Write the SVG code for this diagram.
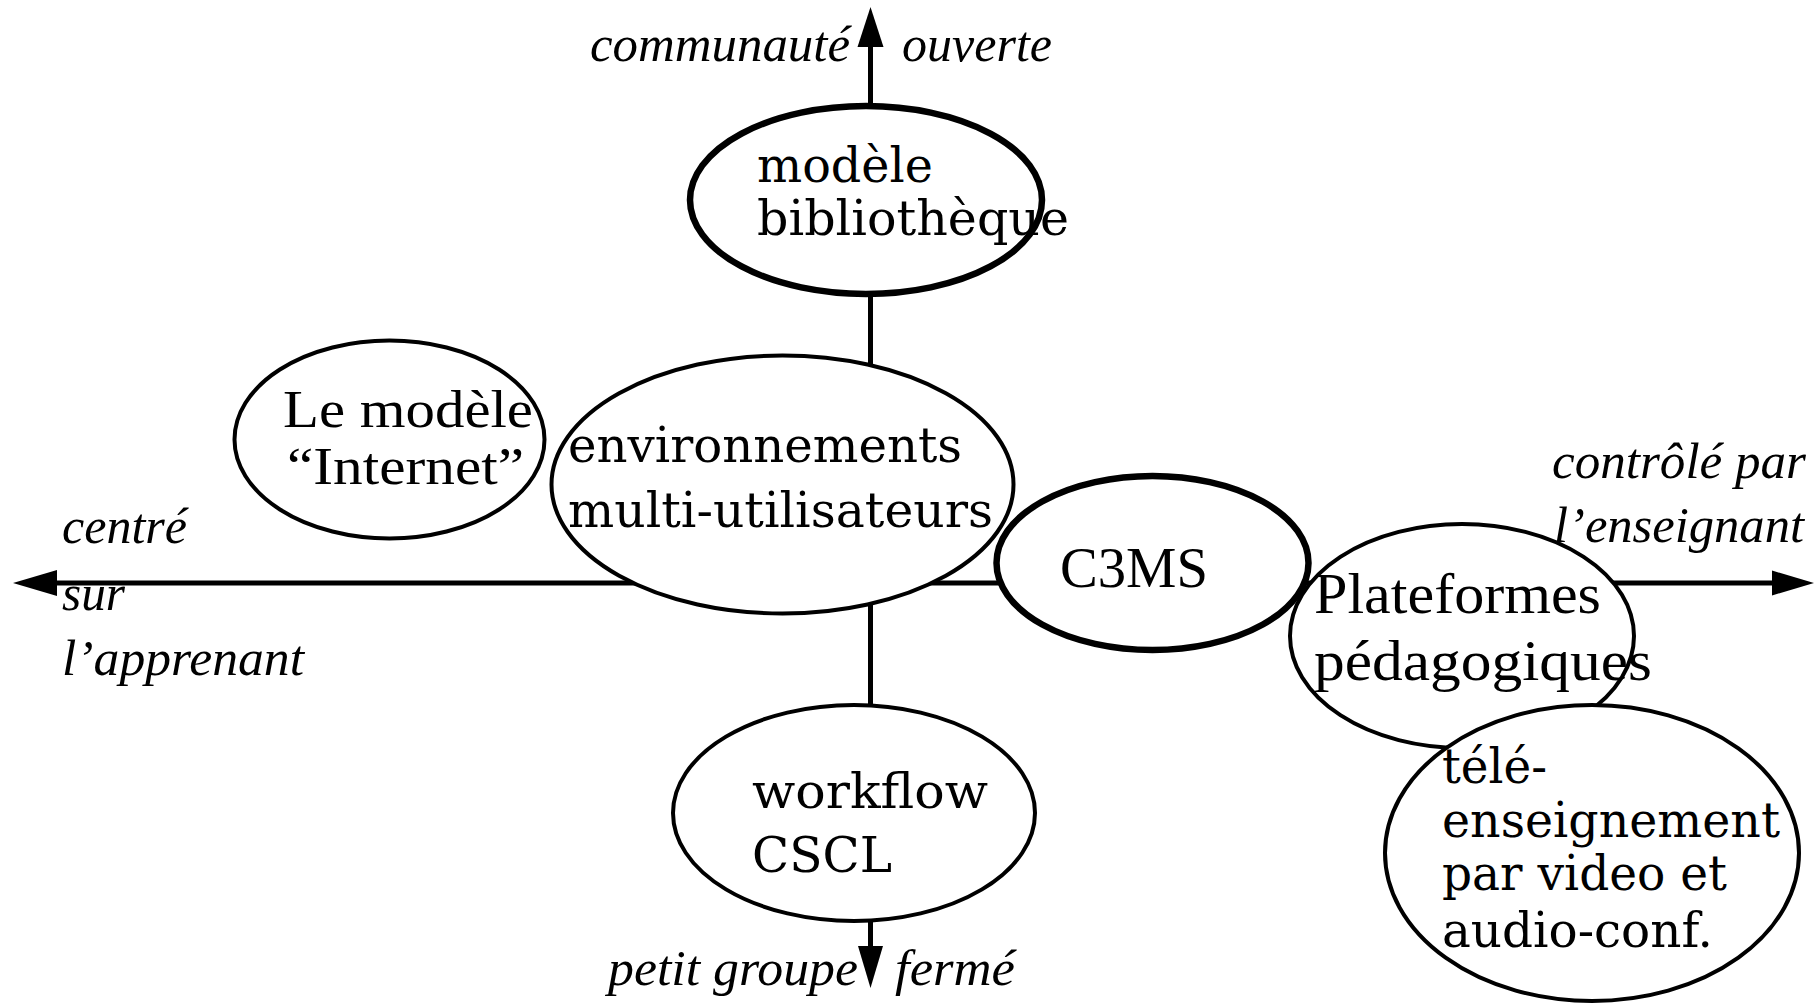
<svg xmlns="http://www.w3.org/2000/svg" width="1814" height="1005" viewBox="0 0 1814 1005">
  <style>
    .axis { stroke: #000; stroke-width: 5; fill: none; }
    .head { fill: #000; stroke: none; }
    .node { fill: #fff; stroke: #000; stroke-width: 4; }
    .bold { stroke-width: 6.5; }
    .wide { font-family: "DejaVu Serif", "Liberation Serif", serif; font-size: 48px; fill: #000; }
    .times { font-family: "Liberation Serif", "Times New Roman", serif; font-size: 58px; fill: #000; }
    .tight { font-size: 52px; }
    .pole { font-family: "Liberation Serif", "Times New Roman", serif; font-style: italic; font-size: 50px; fill: #000; }
  </style>

  <rect x="0" y="0" width="1814" height="1005" fill="#fff"/>

  <!-- two axes with arrowheads at each end -->
  <g id="connectors">
    <line class="axis" x1="50" y1="583" x2="1780" y2="583"/>
    <line class="axis" x1="870.5" y1="40" x2="870.5" y2="950"/>
    <polygon class="head" points="13,583 57,570 57,596"/>
    <polygon class="head" points="1814,583 1772,570.5 1772,595.5"/>
    <polygon class="head" points="870.5,7 857.5,47 883.5,47"/>
    <polygon class="head" points="870.5,988 858,946 883,946"/>
  </g>

  <!-- axis pole labels -->
  <g id="labels">
    <text class="pole" x="590" y="61" textLength="260" lengthAdjust="spacingAndGlyphs">communauté</text>
    <text class="pole" x="902" y="61" textLength="150" lengthAdjust="spacingAndGlyphs">ouverte</text>
    <text class="pole" x="62" y="543" textLength="125" lengthAdjust="spacingAndGlyphs">centré</text>
    <text class="pole" x="62" y="610" textLength="63" lengthAdjust="spacingAndGlyphs">sur</text>
    <text class="pole" x="62" y="675" textLength="242" lengthAdjust="spacingAndGlyphs">l’apprenant</text>
    <text class="pole" x="1552" y="478" textLength="254" lengthAdjust="spacingAndGlyphs">contrôlé par</text>
    <text class="pole" x="1554" y="542" textLength="250" lengthAdjust="spacingAndGlyphs">l’enseignant</text>
    <text class="pole" x="608" y="985" textLength="250" lengthAdjust="spacingAndGlyphs">petit groupe</text>
    <text class="pole" x="895" y="985" textLength="120" lengthAdjust="spacingAndGlyphs">fermé</text>
  </g>

  <g id="internet">
    <ellipse class="node" cx="389.5" cy="439.5" rx="155" ry="99"/>
    <text class="times tight" x="283" y="427" textLength="250" lengthAdjust="spacingAndGlyphs">Le modèle</text>
    <text class="times tight" x="287" y="484" textLength="237" lengthAdjust="spacingAndGlyphs">“Internet”</text>
  </g>

  <g id="bibliotheque">
    <ellipse class="node bold" cx="866" cy="200" rx="176" ry="94"/>
    <text class="wide" x="757" y="182" textLength="176" lengthAdjust="spacingAndGlyphs">modèle</text>
    <text class="wide" x="757" y="235" textLength="312" lengthAdjust="spacingAndGlyphs">bibliothèque</text>
  </g>

  <g id="environnements">
    <ellipse class="node" cx="782.5" cy="484.5" rx="231" ry="129"/>
    <text class="wide" x="568" y="462" textLength="394" lengthAdjust="spacingAndGlyphs">environnements</text>
    <text class="wide" x="568" y="527" textLength="425" lengthAdjust="spacingAndGlyphs">multi-utilisateurs</text>
  </g>

  <g id="workflow">
    <ellipse class="node" cx="854" cy="813" rx="181" ry="108"/>
    <text class="wide" x="752" y="808" textLength="236" lengthAdjust="spacingAndGlyphs">workflow</text>
    <text class="wide" x="752" y="872" textLength="140" lengthAdjust="spacingAndGlyphs">CSCL</text>
  </g>

  <g id="c3ms">
    <ellipse class="node bold" cx="1152.5" cy="563" rx="156" ry="87"/>
    <text class="times" x="1060" y="587" textLength="148" lengthAdjust="spacingAndGlyphs">C3MS</text>
  </g>

  <g id="plateformes">
    <ellipse class="node" cx="1462" cy="636" rx="172" ry="112"/>
    <text class="times" x="1314" y="613" textLength="287" lengthAdjust="spacingAndGlyphs">Plateformes</text>
    <text class="times" x="1314" y="680" textLength="338" lengthAdjust="spacingAndGlyphs">pédagogiques</text>
  </g>

  <g id="teleenseignement">
    <ellipse class="node" cx="1592" cy="853" rx="207" ry="148"/>
    <text class="wide" x="1442" y="783" textLength="105" lengthAdjust="spacingAndGlyphs">télé-</text>
    <text class="wide" x="1442" y="837" textLength="338" lengthAdjust="spacingAndGlyphs">enseignement</text>
    <text class="wide" x="1442" y="890" textLength="285" lengthAdjust="spacingAndGlyphs">par video et</text>
    <text class="wide" x="1442" y="947" textLength="271" lengthAdjust="spacingAndGlyphs">audio-conf.</text>
  </g>
</svg>
